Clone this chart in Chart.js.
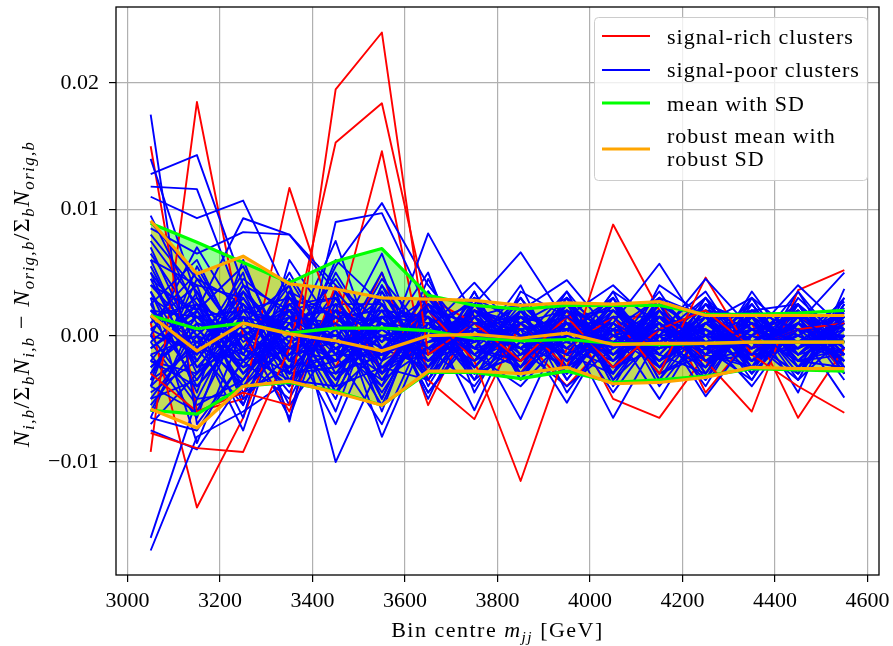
<!DOCTYPE html>
<html>
<head>
<meta charset="utf-8">
<script src="https://cdn.jsdelivr.net/npm/chart.js@4.4.1/dist/chart.umd.min.js"></script>
<style>
  html, body { margin: 0; padding: 0; background: #fff; }
  #chart { display: block; }
</style>
</head>
<body>
<canvas id="chart" width="893" height="646"></canvas>
<script>
// --- DATA (y values are in units of 1e-3) ---
const binCentres = [3050, 3150, 3250, 3350, 3450, 3550, 3650, 3750, 3850, 3950, 4050, 4150, 4250, 4350, 4450, 4550];
const xTicks = [3000, 3200, 3400, 3600, 3800, 4000, 4200, 4400, 4600];
const yTicks = [-0.01, 0.00, 0.01, 0.02];

const legendLabels = ['signal-rich clusters', 'signal-poor clusters', 'mean with SD', 'robust mean with\nrobust SD'];

const signalRichClusters = [
  [-3.0, -6.0, -4.5, -5.5, 19.5, 24.0, -1.5, 1.0, -2.0, 1.5, -2.5, 0.5, 2.0, -1.0, 0.5, 1.0],
  [-7.7, -8.9, -9.2, -1.0, 15.3, 18.4, 2.0, -2.0, -11.5, -1.0, 1.5, -3.0, 4.6, -1.5, -4.0, -6.1],
  [15.0, -6.0, -5.0, 11.7, 0.7, 14.6, -3.5, -6.6, 1.0, -2.5, 8.8, 2.0, -2.0, -6.0, 3.6, 5.2],
  [-9.2, 18.5, 0.0, -6.0, 4.0, -3.0, 3.0, 1.0, -3.0, 2.0, -5.0, -6.5, -1.5, 1.0, -6.5, -1.0],
  [1.0, -13.6, -6.5, 3.0, -2.5, 5.0, -5.5, 2.0, 0.0, -4.0, 0.0, 3.0, -4.5, 0.0, 2.0, -3.0]
];

const signalPoorClusters = [
  [17.5, -7.0, -2.0, 1.5, -1.0, 0.5, -2.0, 1.0, -0.5, 1.5, -1.0, 0.5, -1.5, 1.0, -0.5, 0.0],
  [14.0, 3.0, -1.0, -3.0, 2.0, -2.5, 1.0, -1.5, 2.0, -0.5, 1.0, -1.0, 0.5, -1.5, 1.5, -1.0],
  [12.8, 14.3, 4.0, -2.0, 1.5, -1.0, 2.5, 0.5, -1.0, 1.0, -2.0, 1.5, -0.5, 0.5, -1.0, 1.2],
  [11.8, 11.6, 2.0, 0.5, -2.0, 1.0, -1.0, 2.0, 0.0, -1.5, 0.5, -0.5, 1.5, -1.0, 0.5, -2.0],
  [11.0, 9.3, 10.7, 3.0, -3.0, -1.5, 0.5, -2.5, 1.0, 2.0, -1.0, 1.0, -2.0, 0.5, 1.5, 0.5],
  [9.5, 2.0, 9.3, 8.0, 4.0, 1.0, -1.5, 0.5, 1.5, -1.0, 2.5, -0.5, 1.0, 2.0, -1.5, 1.0],
  [8.5, 6.5, 8.2, 8.0, 3.5, -0.5, 2.0, -1.0, -2.0, 0.5, -0.5, 2.0, -1.0, -0.5, 2.0, -1.5],
  [7.0, -1.0, 5.0, -6.8, 9.0, 9.7, 2.0, 1.0, -1.0, 0.0, 1.5, -1.5, 2.5, 1.0, 0.0, 2.7],
  [6.0, 4.0, 3.0, -2.0, 5.5, 10.5, 4.0, -0.5, 1.0, -2.0, 0.0, 1.0, -1.0, 0.0, -1.0, 1.0],
  [5.0, -3.0, 1.0, 4.0, -10.0, -2.0, 8.1, 1.5, -0.5, 1.0, -1.5, 0.0, 0.5, -2.0, 1.0, -0.5],
  [4.0, 2.0, -4.0, 1.0, 2.5, -8.0, 0.5, 4.2, 0.0, -1.0, 2.0, -2.0, 0.0, 1.5, -0.5, 1.8],
  [3.0, 0.5, -2.5, 2.0, 0.0, 3.0, -5.0, 2.5, 6.6, 1.0, -0.5, 1.5, -1.5, 0.0, 2.0, -1.0],
  [2.0, -2.0, 3.5, -1.0, -2.0, 2.0, 1.5, -5.9, 2.0, 4.4, 0.0, -1.0, 1.0, -1.0, 0.5, 0.0],
  [1.0, 5.0, -1.0, -4.0, 3.0, -3.5, -1.0, 0.0, -6.6, 1.5, 4.0, 0.5, -1.0, 1.0, -1.5, 1.5],
  [0.0, -5.0, 2.0, 3.0, -1.0, 1.5, -2.5, 1.0, 0.5, -5.3, 1.0, 5.7, 0.0, -1.5, 1.0, -2.0],
  [-1.0, 1.5, -3.0, 0.0, 4.5, -1.0, 0.0, -2.0, 1.5, 0.5, -6.5, 0.0, 4.5, 0.5, -1.0, 0.5],
  [-2.0, -4.0, 0.0, 2.5, -2.5, 0.5, 3.0, -1.0, -2.5, 2.0, 0.5, -5.0, 1.0, 3.0, 0.0, -1.5],
  [-3.0, 3.5, -5.0, -1.5, 1.0, -4.5, 1.0, 2.5, 0.0, -1.5, 3.5, 1.0, -4.8, 0.0, 4.0, 0.5],
  [-4.0, -6.0, 1.5, 0.5, -3.5, 2.5, -3.0, 0.0, 2.5, -0.5, -2.0, 2.5, 0.0, -4.0, 1.0, 5.0],
  [-5.0, 0.0, -7.5, 3.5, 1.5, -1.5, 2.0, -3.0, -1.5, 2.5, 0.0, -2.5, 2.0, 1.5, -4.5, 3.7],
  [-6.5, -7.5, -2.0, -5.0, 2.0, 0.0, -1.5, 3.0, 1.0, -3.0, 2.0, -0.5, -2.5, 2.0, 0.5, -4.9],
  [-7.5, -9.0, -3.5, 1.0, -5.0, 4.0, -3.5, 1.5, -3.0, 1.0, -3.0, 3.0, 1.5, -2.5, 2.5, -3.0],
  [-16.0, -5.0, -4.5, -2.5, 0.5, -5.5, 2.5, -2.0, 3.0, -2.5, 1.5, -3.0, 3.0, -0.5, -3.0, 2.0],
  [-17.0, -8.0, -6.0, -3.5, -4.0, -2.5, -1.0, -4.0, 1.0, 3.0, -4.0, 2.0, -3.0, 2.5, -2.0, -2.5],
  [-0.5, 2.5, 0.5, -6.5, 3.5, -6.0, 3.5, -1.5, -4.0, 0.0, 3.0, -1.5, 2.0, -3.0, 3.0, -0.5],
  [0.5, -1.5, 4.5, 1.5, -6.0, 3.5, -2.0, 2.0, -1.0, -4.0, -1.0, 3.5, -2.0, 1.0, -2.5, 2.5],
  [2.5, 6.0, -1.5, 5.0, -1.5, -7.0, 1.0, -3.5, 3.5, 1.5, -2.5, -1.0, 3.0, -2.0, 1.5, -3.5],
  [3.5, -4.5, 6.0, -3.0, 6.0, 2.5, -4.5, 0.5, -2.0, 3.5, -3.5, 1.5, -2.5, 3.5, -1.5, 1.0],
  [-2.5, 1.0, -6.5, 6.0, 0.5, -4.0, 4.5, -2.5, 1.5, -2.0, 2.5, -4.0, 0.5, -1.0, 3.5, -2.5],
  [4.5, -2.5, 1.5, -5.5, -0.5, 6.5, -3.0, 3.5, -3.5, 2.0, -1.5, 2.5, -3.5, 1.5, -3.5, 3.0],
  [-3.5, 4.5, -0.5, 2.0, -4.5, 1.5, 1.5, -1.0, 4.0, -3.5, 1.0, -2.0, 1.5, -3.5, 2.5, -1.5],
  [1.5, -3.5, 2.5, -0.5, 7.5, -3.0, -0.5, 1.5, -2.5, 3.0, -2.0, 1.0, -4.0, 2.0, -1.0, 1.5],
  [-1.5, 0.0, -1.5, 4.5, -1.5, 5.0, -4.0, 2.0, 0.5, -1.5, 3.5, -3.5, 2.5, -0.5, -3.5, 0.0],
  [6.5, 1.0, 0.0, -4.5, 2.5, -0.5, 5.0, -4.5, 2.0, -3.0, 0.5, 3.0, -1.0, -3.5, 2.0, -2.0],
  [-4.5, -2.0, 3.0, -3.0, -2.0, 4.5, 0.0, 3.0, -3.5, 1.0, -4.5, 0.5, 3.5, -2.0, 0.0, 2.0],
  [8.0, 3.5, -2.0, 0.0, -7.0, 1.5, -2.0, -0.5, 3.0, -2.5, 2.0, -1.0, 0.0, 2.5, -2.0, -1.0],
  [-5.5, -1.0, -5.5, 2.5, 3.0, -3.0, 2.5, -3.5, -0.5, 3.5, -1.0, 2.0, -2.0, 0.0, 2.5, -3.0],
  [0.0, 7.0, 1.0, -1.5, -0.5, 0.0, -3.0, 2.5, -2.0, 0.5, 3.0, -2.5, 1.0, -1.5, -1.0, 2.2],
  [2.0, -0.5, -3.5, 3.0, 1.5, -2.0, 3.5, -2.0, 2.5, -4.5, 0.5, 0.0, -3.5, 3.0, -2.5, 0.5],
  [-1.0, 2.0, 5.5, -2.0, -3.0, 2.0, -4.5, 0.0, -1.0, 2.5, -3.0, 4.0, 1.5, -2.5, 3.5, -1.0],
  [5.5, -1.5, 2.0, 1.0, -1.0, -4.0, 1.0, -0.5, 1.0, -1.0, 1.5, -3.0, -1.0, 1.0, -1.5, 1.0],
  [-6.0, 1.0, -1.0, -1.0, 2.0, 0.5, -2.0, 1.5, -1.5, 0.0, -1.5, 1.5, 0.5, -3.0, 1.0, -0.5],
  [3.0, -8.5, 0.5, 2.0, -1.5, 1.0, 0.5, -1.5, 0.5, 1.5, -0.5, -1.5, 2.0, 0.5, -2.0, 1.0],
  [-2.0, 2.5, -4.5, -0.5, 1.0, -1.0, -0.5, 0.5, -0.5, -2.5, 2.0, 0.0, -2.0, -1.0, 0.0, -2.0],
  [9.0, 4.5, 2.5, -1.0, 0.0, -1.5, 0.0, -1.0, 0.0, 0.5, -1.0, 0.5, -0.5, 0.5, -0.5, 0.0],
  [-7.0, -3.0, 0.0, 1.5, -2.0, 2.5, -1.0, 0.0, -1.0, 1.5, 0.0, -1.0, 0.0, -0.5, 1.0, -1.5],
  [4.5, 1.5, -2.0, 3.5, -3.0, 1.0, -1.5, 2.5, -2.0, 1.0, -2.5, 2.0, -1.0, 2.5, -2.0, 1.5],
  [-3.5, -1.0, 2.5, -4.0, 1.5, -2.0, 2.0, -2.5, 1.5, -2.0, 2.5, -1.5, 2.5, -2.5, 1.5, -2.5],
  [0.5, 3.0, -3.0, 1.0, -4.0, 4.0, -1.0, 1.0, -3.0, 2.5, -1.0, 2.5, -3.0, 1.5, -1.5, 2.0],
  [6.0, -2.0, 4.0, -1.5, 2.0, -5.0, 2.5, -1.0, 2.0, -3.0, 1.0, -2.5, 1.5, -2.0, 2.5, -1.5],
  [-4.0, 5.5, -1.0, 2.5, -0.5, -3.0, 1.5, -3.0, 0.5, 1.0, -3.0, 1.0, -1.5, 3.0, -2.5, 0.0],
  [2.5, -4.0, 0.5, -2.5, 5.0, -1.0, -2.5, 2.0, -2.5, 3.0, 0.0, -2.0, 2.0, -1.0, 1.0, -2.5],
  [-1.5, -6.5, 3.5, 0.0, -2.0, 3.0, 0.5, -0.5, 3.0, -1.5, 1.5, -3.0, -1.5, 1.5, -3.0, 2.5],
  [7.5, 2.5, -3.0, 1.5, 1.0, -2.5, -3.5, 3.0, -1.5, -0.5, -2.0, 3.0, -0.5, -2.0, 2.0, -1.0],
  [-5.0, -3.5, 1.0, -1.5, 3.5, -5.0, 3.0, -2.0, 0.0, 2.0, -3.5, 0.0, 3.0, -3.0, 0.5, 1.5],
  [1.0, 4.0, -5.5, 3.5, -2.5, 0.0, -2.0, 1.0, -2.5, 0.5, 2.5, -2.5, 0.0, 2.0, -2.0, -1.5],
  [-2.5, 0.5, 1.5, -2.0, 0.5, 1.5, 1.0, -2.5, 2.0, -3.5, 1.5, 1.5, -2.5, 0.5, 1.5, -3.0],
  [3.5, -2.5, -1.0, 4.0, -4.5, -1.0, -1.0, 0.5, -1.0, 2.0, -2.0, 0.5, 2.0, -1.5, -1.0, 3.0],
  [-6.5, 2.0, -2.5, -1.0, 1.5, 2.0, -2.5, 3.5, -3.0, 0.0, 1.0, -1.5, -3.0, 2.0, 2.5, -0.5],
  [5.0, 0.0, 3.5, -3.5, -1.0, -3.5, 2.0, -1.5, 1.0, -2.5, 3.0, -3.5, 1.0, -0.5, -3.0, 1.0],
  [-0.5, -5.5, -3.5, 1.5, 2.0, 1.0, -3.5, 1.5, 2.5, -1.0, -2.5, 2.5, -1.5, -2.5, 1.5, 0.5],
  [2.0, 1.5, 0.0, -2.5, -1.5, -1.5, 3.5, -3.0, -0.5, 1.5, -0.5, -0.5, 2.5, 1.0, -0.5, -2.0],
  [-4.0, -0.5, 2.0, 0.5, 0.0, -2.5, -0.5, 0.0, -2.0, 3.0, -1.5, 1.0, -2.0, -1.5, 2.5, -1.0],
  [1.5, 2.5, -1.5, -3.5, 2.5, 2.5, -1.5, 2.0, 1.0, -2.0, 0.5, -2.0, 1.0, -2.0, -0.5, 2.0],
  [-2.0, -3.0, 4.0, 2.0, -3.5, 0.0, 0.5, -3.0, -1.5, 1.5, 2.0, -0.5, -2.5, 1.5, -1.5, -0.5],
  [4.0, 0.0, -4.0, -0.5, 1.0, 3.5, -2.5, 1.0, 1.5, -1.5, -3.0, 1.5, 0.0, -1.0, 1.0, -2.0],
  [-3.0, 1.5, 2.0, -3.0, -2.5, -1.0, 1.5, -1.0, -2.0, 1.0, 1.0, -2.5, 1.5, 0.0, -2.0, 1.5],
  [0.0, -1.0, -2.0, 2.0, 3.0, -2.0, 0.0, 2.0, -0.5, -2.5, 0.0, 2.0, -1.0, -2.5, 0.5, -0.5]
];

// mean with SD
const meanValues  = [1.6, 0.55, 1.0, 0.2, 0.6, 0.6, 0.4, -0.2, -0.4, -0.3, -0.6, -0.7, -0.6, -0.5, -0.5, -0.5];
const meanUpper   = [8.9, 7.4, 5.8, 4.2, 5.9, 6.9, 3.2, 2.4, 2.1, 2.4, 2.4, 2.4, 1.7, 1.7, 1.8, 2.0];
const meanLower   = [-5.9, -6.2, -4.0, -3.7, -4.4, -5.5, -2.9, -2.9, -3.4, -2.8, -3.7, -3.5, -3.2, -2.6, -2.7, -2.8];
// robust mean with robust SD
const robustValues = [1.6, -1.2, 1.0, 0.15, -0.4, -1.2, 0.0, 0.1, -0.2, 0.2, -0.7, -0.6, -0.6, -0.5, -0.5, -0.5];
const robustUpper  = [9.1, 4.9, 6.3, 4.1, 3.7, 3.0, 2.9, 2.8, 2.4, 2.6, 2.5, 2.7, 1.6, 1.6, 1.6, 1.6];
const robustLower  = [-5.8, -7.3, -4.0, -3.6, -4.5, -5.5, -2.8, -2.8, -3.0, -2.5, -3.8, -3.7, -3.3, -2.5, -2.6, -2.6];

// --- STYLE ---
const SERIF = "'Liberation Serif', 'Times New Roman', serif";
const RED = '#ff0000', BLUE = '#0000ff', LIME = '#00ff00', ORANGE = '#ffa500';

const toPoints = arr => arr.map((v, i) => ({ x: binCentres[i], y: v * 1e-3 }));

function lineSet(values, color, width, order, extra) {
  return Object.assign({
    data: toPoints(values),
    borderColor: color,
    borderWidth: width,
    backgroundColor: color,
    fill: false,
    order: order
  }, extra || {});
}

const datasets = [
  lineSet(meanUpper, LIME, 3.2, 1, { fill: 1, backgroundColor: 'rgba(0,255,0,0.4)' }),
  lineSet(meanLower, LIME, 3.2, 1),
  lineSet(meanValues, LIME, 3.2, 1),
  lineSet(robustUpper, ORANGE, 3.2, 0, { fill: 4, backgroundColor: 'rgba(255,165,0,0.4)' }),
  lineSet(robustLower, ORANGE, 3.2, 0),
  lineSet(robustValues, ORANGE, 3.2, 0)
];

signalPoorClusters.forEach((row, i) => datasets.push(lineSet(row, BLUE, 1.9, 2 + i)));
signalRichClusters.forEach((row, i) => datasets.push(lineSet(row, RED, 1.9, 6.5 + i * 12)));

// --- rich text helpers (subscripts / italics) ---
function runFont(run, size) {
  const s = run.sub ? size * 0.7 : size;
  return (run.it ? 'italic ' : '') + s.toFixed(1) + 'px ' + SERIF;
}
function richWidth(ctx, runs, size) {
  let w = 0;
  runs.forEach(r => { ctx.font = runFont(r, size); w += ctx.measureText(r.t).width; });
  return w;
}
function drawRich(ctx, runs, x, y, size) {
  let cx = x;
  runs.forEach(r => {
    ctx.font = runFont(r, size);
    ctx.fillText(r.t, cx, r.sub ? y + size * 0.22 : y);
    cx += ctx.measureText(r.t).width;
  });
}

const yTitleRuns = [
  { t: 'N', it: 1 }, { t: 'i,b', it: 1, sub: 1 }, { t: '/Σ' }, { t: 'b', it: 1, sub: 1 },
  { t: 'N', it: 1 }, { t: 'i,b', it: 1, sub: 1 }, { t: ' − ' },
  { t: 'N', it: 1 }, { t: 'orig,b', it: 1, sub: 1 }, { t: '/Σ' }, { t: 'b', it: 1, sub: 1 },
  { t: 'N', it: 1 }, { t: 'orig,b', it: 1, sub: 1 }
];
const xTitleRuns = [{ t: 'Bin centre ' }, { t: 'm', it: 1 }, { t: 'jj', it: 1, sub: 1 }, { t: ' [GeV]' }];

function drawLegend(ctx) {
  const bx = 594, by = 17, bw = 273, bh = 163;
  ctx.save();
  ctx.beginPath();
  ctx.roundRect(bx + 0.5, by + 0.5, bw, bh, 4);
  ctx.fillStyle = 'rgba(255,255,255,0.8)';
  ctx.fill();
  ctx.strokeStyle = '#cccccc';
  ctx.lineWidth = 1;
  ctx.stroke();

  const handles = [
    { color: RED, width: 1.9, y: 36 },
    { color: BLUE, width: 1.9, y: 70 },
    { color: LIME, width: 3.2, y: 103 },
    { color: ORANGE, width: 3.2, y: 149 }
  ];
  const baselines = [[44], [77], [110.5], [142.5, 165.5]];
  ctx.font = '22px ' + SERIF;
  ctx.letterSpacing = '1px';
  ctx.fillStyle = '#000';
  ctx.textBaseline = 'alphabetic';
  legendLabels.forEach((label, i) => {
    const h = handles[i];
    ctx.beginPath();
    ctx.moveTo(602, h.y);
    ctx.lineTo(650, h.y);
    ctx.strokeStyle = h.color;
    ctx.lineWidth = h.width;
    ctx.stroke();
    label.split('\n').forEach((line, k) => ctx.fillText(line, 667, baselines[i][k]));
  });
  ctx.restore();
}

const decorations = {
  id: 'decorations',
  afterDatasetsDraw(chart) {
    const { ctx, chartArea: a } = chart;
    ctx.save();
    ctx.strokeStyle = '#000';
    ctx.lineWidth = 1.3;
    ctx.strokeRect(a.left, a.top, a.right - a.left, a.bottom - a.top);
    ctx.restore();
  },
  afterDraw(chart) {
    const { ctx, chartArea: a } = chart;
    drawLegend(ctx);

    ctx.save();
    ctx.fillStyle = '#000';
    ctx.textBaseline = 'alphabetic';
    ctx.letterSpacing = '1.5px';
    const xw = richWidth(ctx, xTitleRuns, 22);
    drawRich(ctx, xTitleRuns, (a.left + a.right) / 2 - xw / 2, 637, 22);

    ctx.letterSpacing = '1.4px';
    ctx.translate(29, (a.top + a.bottom) / 2 + 3);
    ctx.rotate(-Math.PI / 2);
    const yw = richWidth(ctx, yTitleRuns, 24);
    drawRich(ctx, yTitleRuns, -yw / 2, 0, 24);
    ctx.restore();
  }
};

const tickFont = { family: SERIF, size: 22 };
const gridStyle = { color: '#b0b0b0', lineWidth: 1.2, tickColor: '#000', tickLength: 7, tickWidth: 1.2 };
const noPadding = axis => {
  axis.paddingLeft = 0; axis.paddingRight = 0;
  axis.paddingTop = 0; axis.paddingBottom = 0;
};

new Chart(document.getElementById('chart'), {
  type: 'line',
  data: { datasets: datasets },
  options: {
    responsive: false,
    animation: false,
    devicePixelRatio: 1,
    events: [],
    layout: { padding: { left: 0, right: 14, top: 7, bottom: 0 } },
    elements: {
      point: { radius: 0, hoverRadius: 0 },
      line: { tension: 0, borderJoinStyle: 'round' }
    },
    plugins: {
      legend: { display: false },
      tooltip: { enabled: false },
      filler: { drawTime: 'beforeDatasetsDraw' }
    },
    scales: {
      x: {
        type: 'linear',
        min: 2975,
        max: 4625,
        afterBuildTicks: axis => { axis.ticks = xTicks.map(v => ({ value: v })); },
        afterFit: axis => { axis.height = 71; noPadding(axis); },
        ticks: { font: tickFont, color: '#000', padding: 6, maxRotation: 0, autoSkip: false, callback: v => String(v) },
        grid: gridStyle,
        border: { display: false }
      },
      y: {
        type: 'linear',
        min: -0.01894,
        max: 0.02602,
        afterBuildTicks: axis => { axis.ticks = yTicks.map(v => ({ value: v })); },
        afterFit: axis => { axis.width = 116; noPadding(axis); },
        ticks: {
          font: tickFont, color: '#000', padding: 10, autoSkip: false,
          callback: v => (v < 0 ? '−' : '') + Math.abs(v).toFixed(2)
        },
        grid: gridStyle,
        border: { display: false }
      }
    }
  },
  plugins: [decorations]
});
</script>
</body>
</html>
